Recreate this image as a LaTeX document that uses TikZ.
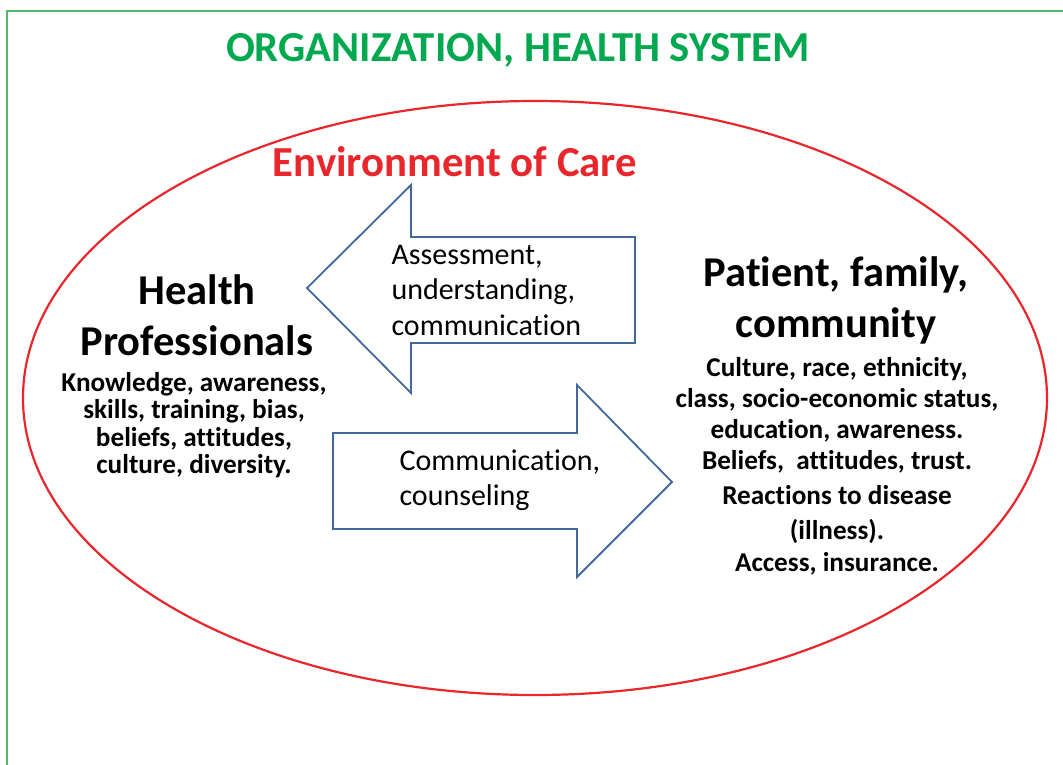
\documentclass[tikz,border=0pt]{standalone}
\usepackage{fontspec}
\setmainfont{Carlito}[Ligatures=NoCommon]
\usepackage{tikz}

\definecolor{orggreen}{HTML}{00A950}
\definecolor{framegreen}{HTML}{4DBB6A}
\definecolor{carered}{HTML}{E8262B}
\definecolor{arrowblue}{HTML}{41699C}

\tikzset{
  heading/.style={font=\bfseries\fontsize{42.5}{51}\selectfont, align=center},
  attrs/.style={font=\bfseries\fontsize{27.2}{27.3}\selectfont, align=center},
  flowtext/.style={font=\fontsize{30}{35.5}\selectfont, align=left, anchor=west},
  bigarrow/.style={draw=arrowblue, line width=1.8pt, line join=miter, fill=white}
}

\begin{document}
\begin{tikzpicture}[x=1pt, y=-1pt]
    \useasboundingbox (0,0) rectangle (1063,764);

    % outer frame, runs off the page right and below
    \draw[framegreen, line width=2.6pt] (1080,11) -- (7,11) -- (7,790);
    \node[text=orggreen, font=\bfseries\fontsize{42.7}{50}\selectfont] (org) at (518,50) {ORGANIZATION, HEALTH SYSTEM};

    % environment of care
    \draw[carered, line width=2.2pt] (535,398) ellipse [x radius=512, y radius=297];
    \node[text=carered, font=\bfseries\fontsize{42.8}{50}\selectfont] (env) at (455,162) {Environment of Care};

    % the two block arrows
    \draw[bigarrow] (307,288) -- (411,185) -- (411,237) -- (635,237) -- (635,343) -- (411,343) -- (411,393) -- cycle;
    \draw[bigarrow] (333,433) -- (577,433) -- (577,385) -- (672,482) -- (577,577) -- (577,529) -- (333,529) -- cycle;
    \node[flowtext] (assess) at (388,290) {Assessment,\\understanding,\\communication};
    \node[flowtext] (counsel) at (396,480) {Communication,\\counseling};

    % left side
    \node[heading] (hp) at (197,315) {Health\\Professionals};
    \node[attrs] (hpattr) at (194,425) {Knowledge, awareness,\\skills, training, bias,\\beliefs, attitudes,\\culture, diversity.};

    % right side
    \node[heading] (pfc) at (836,300) {Patient, family,\\community};
    \node[attrs, font=\bfseries\fontsize{27.2}{31}\selectfont] (pfcattr) at (837,466)
        {Culture, race, ethnicity,\\class, socio-economic status,\\education, awareness.\\Beliefs,\ \ attitudes, trust.\\[4pt]Reactions to disease\\[4pt](illness).\\[1pt]Access, insurance.};
\end{tikzpicture}
\end{document}
